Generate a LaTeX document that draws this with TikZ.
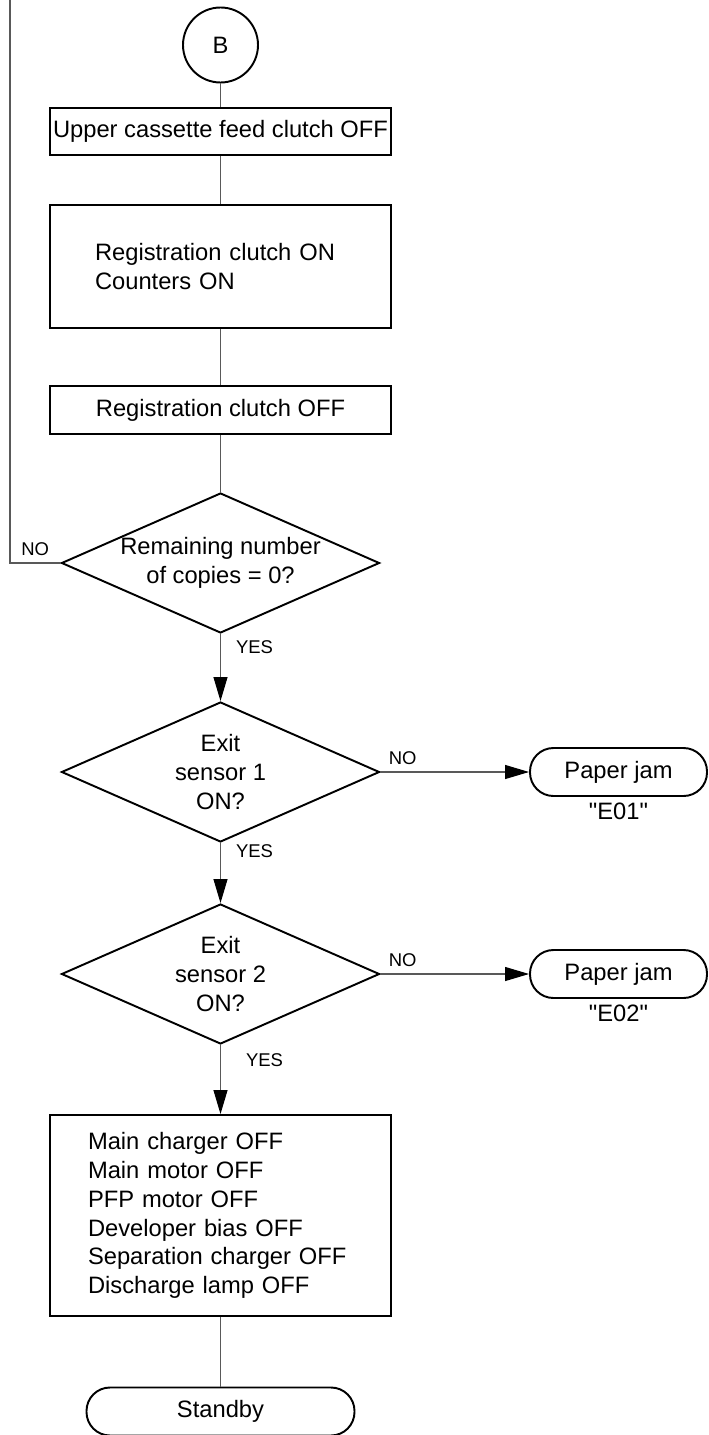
\documentclass[tikz,border=0pt]{standalone}
\usepackage{fontspec}
\setmainfont{Liberation Sans}
\usetikzlibrary{arrows.meta,positioning,shapes}

\begin{document}
\begin{tikzpicture}[
		circle_node/.style = {circle, draw, line width = 1.1pt, minimum size = 1.5cm, inner sep = 0pt},
		box_node/.style = {rectangle, draw, line width = 1.1pt, minimum width = 6.82cm, inner sep = 0pt},
		decision_node/.style = {diamond, aspect = 2.27, draw, line width = 1.1pt, minimum width = 6.36cm, minimum height = 2.8cm, inner sep = 0pt, align = center},
		end_node/.style = {rectangle, rounded corners = 0.47cm, draw, line width = 1.1pt, minimum height = 0.96cm, inner sep = 0pt},
		small_label/.style = {font = \fontsize{10.5}{12}\selectfont, inner sep = 0pt},
		flow_line/.style = {draw = black!65, line width = 0.6pt},
		font = \fontsize{13.5}{16.4}\selectfont,
		>={Triangle[length = 0.48cm, width = 0.28cm, color = black]},
		]
		\useasboundingbox (0,0) rectangle (14.18,-28.7);
		
		%start
		\node[circle_node] (b) at (4.41,-0.9) {B};
		\node[box_node, minimum height = 0.94cm, below of = {b}, node distance = 1.73cm] (1) {Upper cassette feed clutch OFF};
		\node[box_node, minimum height = 2.46cm, text width = 5.02cm, align = left, below of = {1}, node distance = 2.7cm] (2) {Registration clutch ON\\Counters ON};
		\node[box_node, minimum height = 0.96cm, below of = {2}, node distance = 2.87cm] (3) {Registration clutch OFF};
		
		%checks
		\node[decision_node, below of = {3}, node distance = 3.06cm] (d1) {Remaining number\\of copies = 0?};
		\node[decision_node, below of = {d1}, node distance = 4.18cm] (d2) {Exit\\sensor 1\\ON?};
		\node[end_node, minimum width = 3.54cm, right of = {d2}, node distance = 7.96cm, label = below:{\textquotedbl E01\textquotedbl}] (e1) {Paper jam};
		\node[decision_node, below of = {d2}, node distance = 4.04cm] (d3) {Exit\\sensor 2\\ON?};
		\node[end_node, minimum width = 3.54cm, right of = {d3}, node distance = 7.96cm, label = below:{\textquotedbl E02\textquotedbl}] (e2) {Paper jam};
		
		%end
		\node[box_node, minimum height = 4.02cm, text width = 5.3cm, align = left, below of = {d3}, node distance = 4.83cm] (4) {Main charger OFF\\Main motor OFF\\PFP motor OFF\\Developer bias OFF\\Separation charger OFF\\Discharge lamp OFF};
		\node[end_node, minimum width = 5.36cm, below of = {4}, node distance = 3.92cm] (s) {Standby};
		
		\draw[flow_line] (b) -- (1);
		\draw[flow_line] (1) -- (2);
		\draw[flow_line] (2) -- (3);
		\draw[flow_line] (3) -- (d1);
		\coordinate (top) at (0.2,0);
		\draw[flow_line] (d1.west) -- node[small_label, above = 4pt] {NO} (d1.west -| top) -- (top);
		\draw[flow_line, ->] (d1) -- node[small_label, anchor = west, xshift = 0.3cm, pos = 0.2] {YES} (d2);
		\draw[flow_line, ->] (d2) -- node[small_label, above = 4pt, pos = 0.15] {NO} (e1);
		\draw[flow_line, ->] (d2) -- node[small_label, anchor = west, xshift = 0.3cm, pos = 0.13] {YES} (d3);
		\draw[flow_line, ->] (d3) -- node[small_label, above = 4pt, pos = 0.15] {NO} (e2);
		\draw[flow_line, ->] (d3) -- node[small_label, anchor = west, xshift = 0.5cm, pos = 0.22] {YES} (4);
		\draw[flow_line] (4) -- (s);

\end{tikzpicture}
\end{document}
